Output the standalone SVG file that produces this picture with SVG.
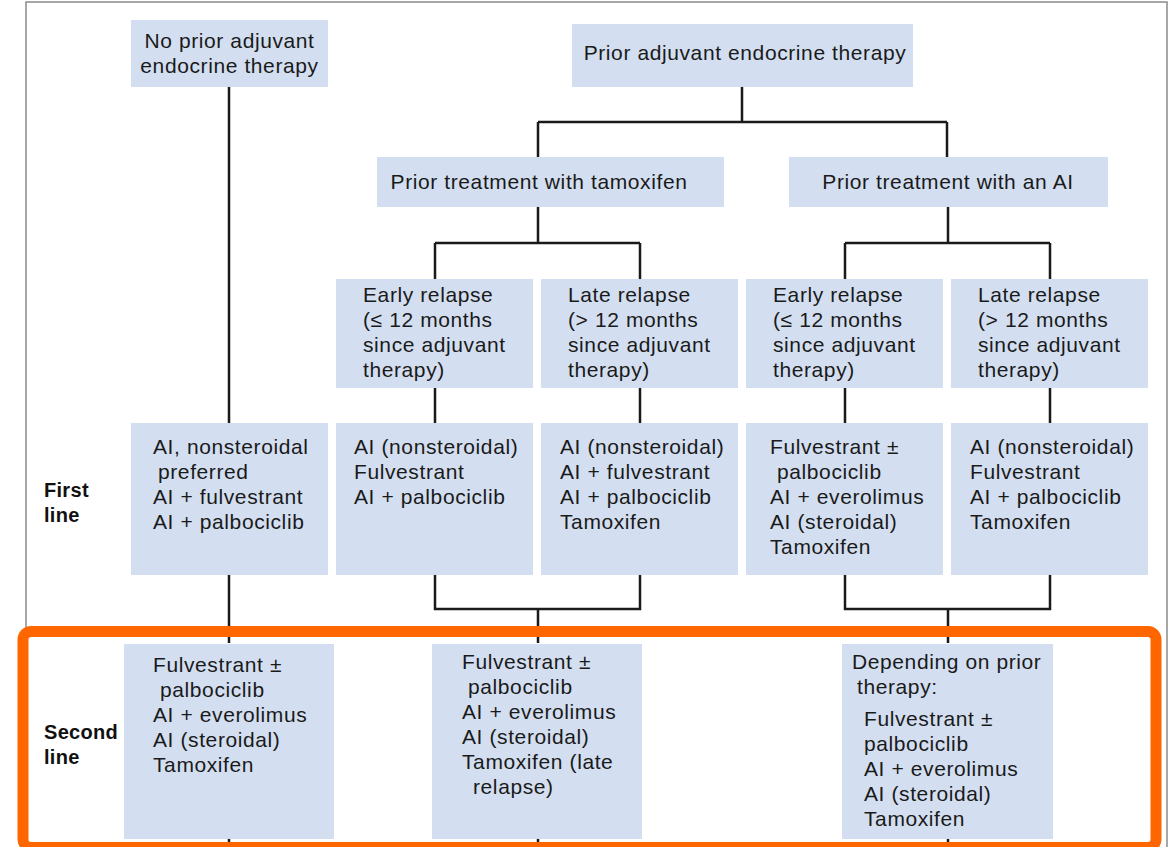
<svg xmlns="http://www.w3.org/2000/svg" width="1171" height="847" viewBox="0 0 1171 847">
<style>
.box{fill:#d3dff1;}
.t{font-family:"Liberation Sans",Arial,sans-serif;font-size:21px;letter-spacing:0.6px;fill:#1a1a1a;}
.c{text-anchor:middle;}
.b{font-family:"Liberation Sans",Arial,sans-serif;font-size:20px;font-weight:bold;letter-spacing:0.3px;fill:#111;}
.ln{fill:none;stroke:#1a1a1a;stroke-width:2.5;}
</style>
<rect x="0" y="0" width="1171" height="847" fill="#ffffff"/>
<path d="M26,847 V2 H1167 V847" fill="none" stroke="#8a8a8a" stroke-width="1.5"/>
<g id="connectors" class="ln">
<path d="M229,87 V423"/>
<path d="M742,87 V122 M538,122 H947 M538,122 V157 M947,122 V157"/>
<path d="M538,207 V243 M435,243 H640 M435,243 V279 M640,243 V279"/>
<path d="M948,207 V243 M845,243 H1050 M845,243 V279 M1050,243 V279"/>
<path d="M435,388 V423 M640,388 V423 M845,388 V423 M1050,388 V423"/>
<path d="M229,575 V643"/>
<path d="M435,575 V609 H640 V575 M538,609 V643"/>
<path d="M845,575 V609 H1050 V575 M948,609 V643"/>
<path d="M229,839 V847 M538,839 V847 M948,839 V847"/>
</g>
<g id="no-prior"><rect class="box" x="131" y="20" width="197" height="67"/><text class="t c" x="229.5" y="48">No prior adjuvant</text><text class="t c" x="229.5" y="73">endocrine therapy</text></g>
<g id="prior"><rect class="box" x="572" y="24" width="341" height="63"/><text class="t c" x="745" y="60">Prior adjuvant endocrine therapy</text></g>
<g id="tamoxifen"><rect class="box" x="377" y="157" width="347" height="50"/><text class="t c" x="539" y="189">Prior treatment with tamoxifen</text></g>
<g id="ai"><rect class="box" x="789" y="157" width="319" height="50"/><text class="t c" x="948" y="189">Prior treatment with an AI</text></g>
<g id="tam-early"><rect class="box" x="336" y="279" width="197" height="109"/><text class="t" x="363" y="302">Early relapse</text><text class="t" x="363" y="327">(≤ 12 months</text><text class="t" x="363" y="352">since adjuvant</text><text class="t" x="363" y="377">therapy)</text></g>
<g id="tam-late"><rect class="box" x="541" y="279" width="197" height="109"/><text class="t" x="568" y="302">Late relapse</text><text class="t" x="568" y="327">(&gt; 12 months</text><text class="t" x="568" y="352">since adjuvant</text><text class="t" x="568" y="377">therapy)</text></g>
<g id="ai-early"><rect class="box" x="746" y="279" width="197" height="109"/><text class="t" x="773" y="302">Early relapse</text><text class="t" x="773" y="327">(≤ 12 months</text><text class="t" x="773" y="352">since adjuvant</text><text class="t" x="773" y="377">therapy)</text></g>
<g id="ai-late"><rect class="box" x="951" y="279" width="197" height="109"/><text class="t" x="978" y="302">Late relapse</text><text class="t" x="978" y="327">(&gt; 12 months</text><text class="t" x="978" y="352">since adjuvant</text><text class="t" x="978" y="377">therapy)</text></g>
<g id="first-line-label"><text class="b" x="44" y="497">First</text><text class="b" x="44" y="522">line</text></g>
<g id="fl-noprior"><rect class="box" x="131" y="423" width="197" height="152"/><text class="t" x="153" y="454">AI, nonsteroidal</text><text class="t" x="158" y="479">preferred</text><text class="t" x="153" y="504">AI + fulvestrant</text><text class="t" x="153" y="529">AI + palbociclib</text></g>
<g id="fl-tam-early"><rect class="box" x="336" y="423" width="197" height="152"/><text class="t" x="354" y="454">AI (nonsteroidal)</text><text class="t" x="354" y="479">Fulvestrant</text><text class="t" x="354" y="504">AI + palbociclib</text></g>
<g id="fl-tam-late"><rect class="box" x="541" y="423" width="197" height="152"/><text class="t" x="560" y="454">AI (nonsteroidal)</text><text class="t" x="560" y="479">AI + fulvestrant</text><text class="t" x="560" y="504">AI + palbociclib</text><text class="t" x="560" y="529">Tamoxifen</text></g>
<g id="fl-ai-early"><rect class="box" x="746" y="423" width="197" height="152"/><text class="t" x="770" y="454">Fulvestrant ±</text><text class="t" x="777" y="479">palbociclib</text><text class="t" x="770" y="504">AI + everolimus</text><text class="t" x="770" y="529">AI (steroidal)</text><text class="t" x="770" y="554">Tamoxifen</text></g>
<g id="fl-ai-late"><rect class="box" x="951" y="423" width="197" height="152"/><text class="t" x="970" y="454">AI (nonsteroidal)</text><text class="t" x="970" y="479">Fulvestrant</text><text class="t" x="970" y="504">AI + palbociclib</text><text class="t" x="970" y="529">Tamoxifen</text></g>
<rect id="highlight" x="23" y="631.5" width="1133" height="216" rx="8" fill="none" stroke="#ff6600" stroke-width="11"/>
<g id="second-line-label"><text class="b" x="44" y="739">Second</text><text class="b" x="44" y="764">line</text></g>
<g id="sl-noprior"><rect class="box" x="124" y="644" width="210" height="195"/><text class="t" x="153" y="672">Fulvestrant ±</text><text class="t" x="160" y="697">palbociclib</text><text class="t" x="153" y="722">AI + everolimus</text><text class="t" x="153" y="747">AI (steroidal)</text><text class="t" x="153" y="772">Tamoxifen</text></g>
<g id="sl-tam"><rect class="box" x="432" y="644" width="210" height="195"/><text class="t" x="462" y="669">Fulvestrant ±</text><text class="t" x="468" y="694">palbociclib</text><text class="t" x="462" y="719">AI + everolimus</text><text class="t" x="462" y="744">AI (steroidal)</text><text class="t" x="462" y="769">Tamoxifen (late</text><text class="t" x="473" y="794">relapse)</text></g>
<g id="sl-ai"><rect class="box" x="842" y="644" width="211" height="195"/><text class="t" x="852" y="669">Depending on prior</text><text class="t" x="857" y="694">therapy:</text><text class="t" x="864" y="726">Fulvestrant ±</text><text class="t" x="864" y="751">palbociclib</text><text class="t" x="864" y="776">AI + everolimus</text><text class="t" x="864" y="801">AI (steroidal)</text><text class="t" x="864" y="826">Tamoxifen</text></g>
</svg>
